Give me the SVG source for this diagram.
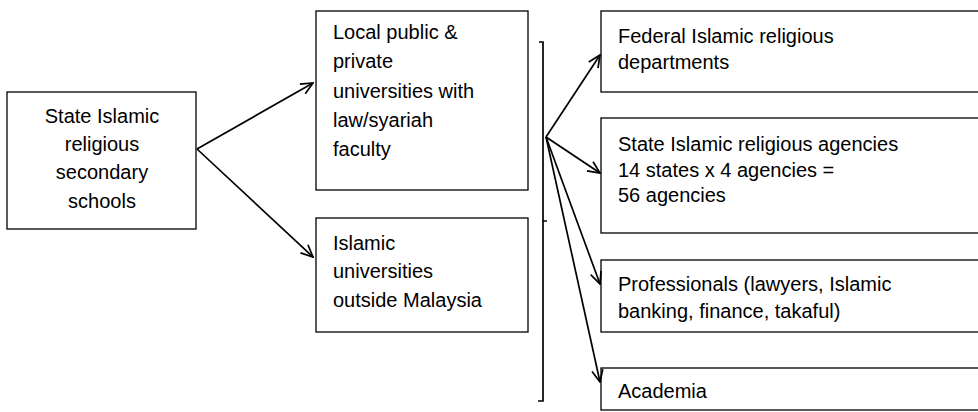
<svg xmlns="http://www.w3.org/2000/svg" width="978" height="412" viewBox="0 0 978 412">
<style>
.box{fill:#fff;stroke:#000;stroke-width:1.3}
.t{font-family:"Liberation Sans",Arial,sans-serif;font-size:20px;fill:#000}
.c{fill:none;stroke:#000;stroke-width:1.7}
</style>
<defs>
<marker id="ah" viewBox="0 0 14 14" refX="13" refY="7" markerWidth="14" markerHeight="14" markerUnits="userSpaceOnUse" orient="auto">
<path d="M1,1.5 L13,7 L1,12.5" fill="none" stroke="#000" stroke-width="1.7"/>
</marker>
</defs>
<rect width="978" height="412" fill="#fff"/>
<g id="schools">
<rect class="box" x="7" y="92" width="189" height="137"/>
<text class="t" text-anchor="middle"><tspan x="102" y="123">State Islamic</tspan><tspan x="102" y="151">religious</tspan><tspan x="102" y="179">secondary</tspan><tspan x="102" y="208">schools</tspan></text>
</g>
<g id="local-unis">
<rect class="box" x="316" y="11" width="212" height="179"/>
<text class="t"><tspan x="333" y="39">Local public &amp;</tspan><tspan x="333" y="68">private</tspan><tspan x="333" y="98">universities with</tspan><tspan x="333" y="127">law/syariah</tspan><tspan x="333" y="156">faculty</tspan></text>
</g>
<g id="foreign-unis">
<rect class="box" x="316" y="218" width="212" height="114"/>
<text class="t"><tspan x="333" y="250">Islamic</tspan><tspan x="333" y="278">universities</tspan><tspan x="333" y="307">outside Malaysia</tspan></text>
</g>
<g id="federal">
<rect class="box" x="601" y="11" width="400" height="81"/>
<text class="t"><tspan x="618" y="43">Federal Islamic religious</tspan><tspan x="618" y="69">departments</tspan></text>
</g>
<g id="state-agencies">
<rect class="box" x="601" y="118" width="400" height="115"/>
<text class="t"><tspan x="618" y="151">State Islamic religious agencies</tspan><tspan x="618" y="177">14 states x 4 agencies =</tspan><tspan x="618" y="202">56 agencies</tspan></text>
</g>
<g id="professionals">
<rect class="box" x="601" y="260" width="400" height="72"/>
<text class="t"><tspan x="618" y="291">Professionals (lawyers, Islamic</tspan><tspan x="618" y="318">banking, finance, takaful)</tspan></text>
</g>
<g id="academia">
<rect class="box" x="601" y="368" width="400" height="42"/>
<text class="t"><tspan x="618" y="398">Academia</tspan></text>
</g>
<g id="connectors">
<path class="c" d="M539,42 H543 V401 H538 M543,221 H547" stroke-width="1.3"/>
<line class="c" x1="197" y1="149" x2="313" y2="83" marker-end="url(#ah)"/>
<line class="c" x1="197" y1="149" x2="313" y2="257" marker-end="url(#ah)"/>
<line class="c" x1="546" y1="137" x2="600" y2="55" marker-end="url(#ah)"/>
<line class="c" x1="546" y1="137" x2="600" y2="173" marker-end="url(#ah)"/>
<line class="c" x1="546" y1="137" x2="600" y2="284" marker-end="url(#ah)"/>
<line class="c" x1="546" y1="137" x2="600" y2="382" marker-end="url(#ah)"/>
</g>
</svg>
